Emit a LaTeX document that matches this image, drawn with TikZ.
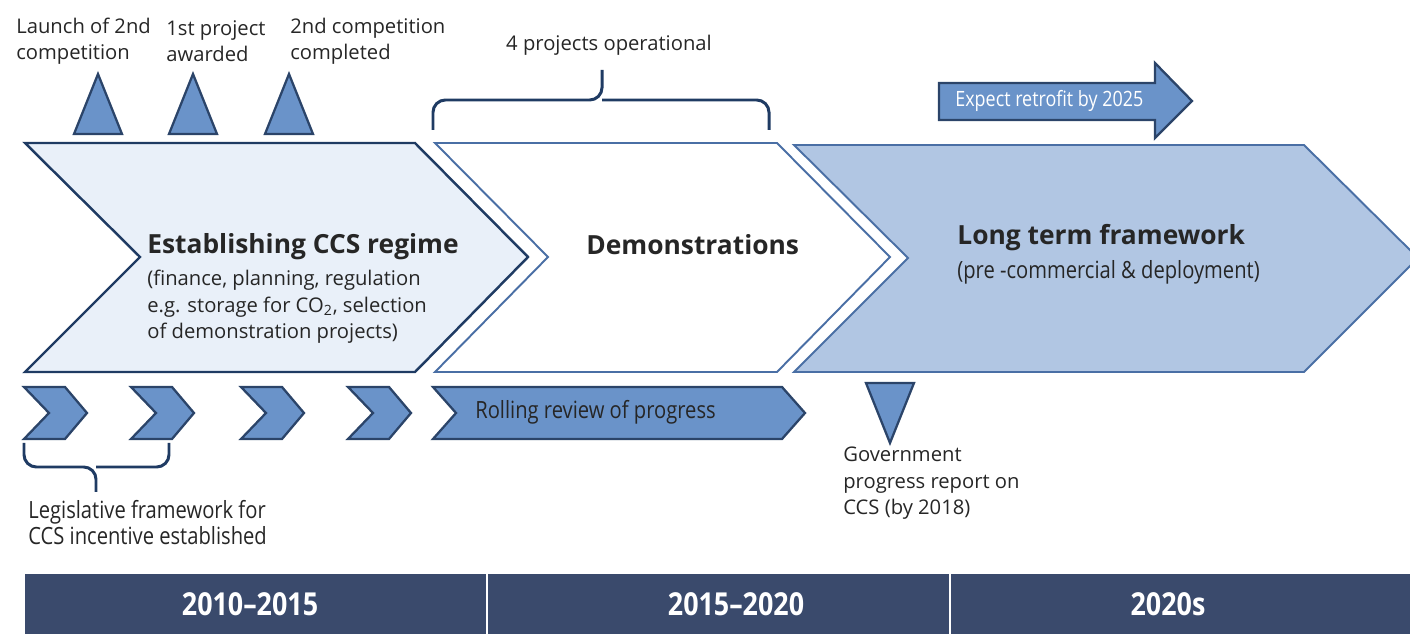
\documentclass[tikz,border=0pt]{standalone}
\usepackage{fontspec}
\setmainfont{Open Sans}
\newfontfamily\narrowfont[FakeStretch=0.85]{Open Sans}
\usepackage{tikz}

\definecolor{navy}{HTML}{1F3B63}
\definecolor{paleblue}{HTML}{E9F0F9}
\definecolor{midline}{HTML}{4A6FA5}
\definecolor{midfill}{HTML}{B1C6E3}
\definecolor{blockfill}{HTML}{6A93C9}
\definecolor{blockline}{HTML}{2B4469}
\definecolor{barblue}{HTML}{3A4A6C}
\definecolor{ink}{HTML}{262626}

\begin{document}
\begin{tikzpicture}[x=0.02cm,y=-0.02cm,
  phaseone/.style={fill=paleblue,draw=navy,line width=1.4pt,line join=miter},
  phasetwo/.style={fill=white,draw=midline,line width=1.1pt,line join=miter},
  phasethree/.style={fill=midfill,draw=midline,line width=1.1pt,line join=miter},
  marker/.style={fill=blockfill,draw=blockline,line width=1.3pt,line join=miter},
  brace/.style={draw=navy,line width=1.7pt,rounded corners=7pt},
  note/.style={inner sep=0pt,align=left,text=ink,font=\fontsize{11.5}{15}\selectfont},
  narrownote/.style={inner sep=0pt,align=left,text=ink,font=\narrowfont\fontsize{13.5}{15}\selectfont},
  heading/.style={inner sep=0pt,text=ink,font=\bfseries\fontsize{15}{18}\selectfont},
  yearlabel/.style={inner sep=0pt,text=white,font=\narrowfont\bfseries\fontsize{18}{20}\selectfont}]
\useasboundingbox (0,0) rectangle (1410,634);

% milestones on top
\node[note,anchor=west] (launch) at (16,41) {Launch of 2nd\\competition};
\node[note,anchor=west] (awarded) at (166,41) {1st project\\awarded};
\node[note,anchor=west] (completed) at (290,41) {2nd competition\\completed};
\foreach \x in {98,193,289}
  \draw[marker] (\x,74) -- (\x+24,134) -- (\x-24,134) -- cycle;

% brace over the demonstration phase
\node[note] (operational) at (609,45) {4 projects operational};
\draw[brace] (433,130) -- (433,100) -- (602,100) -- (602,70);
\draw[brace] (769,130) -- (769,100) -- (602,100);

% retrofit arrow
\draw[marker] (939,83) -- (1155,83) -- (1155,63) -- (1192,101) -- (1155,138)
  -- (1155,120) -- (939,120) -- cycle;
\node[narrownote,anchor=west,text=white,font=\narrowfont\fontsize{12}{14}\selectfont]
  (retrofit) at (955,101) {Expect retrofit by 2025};

% the three phases
\draw[phaseone] (25,143) -- (415,143) -- (528,257) -- (415,372) -- (25,372)
  -- (140,257) -- cycle;
\draw[phasetwo] (435,143) -- (777,143) -- (890,257) -- (777,372) -- (435,372)
  -- (548,257) -- cycle;
\draw[phasethree] (794,145) -- (1304,145) -- (1418,258) -- (1304,372) -- (794,372)
  -- (908,258) -- cycle;

\node[heading,anchor=west] (regime) at (147,247) {Establishing CCS regime};
\node[note,anchor=north west] (regimetext) at (147,270)
  {(finance, planning, regulation\\e.g. storage for CO\textsubscript{2}, selection\\of demonstration projects)};
\node[heading,anchor=west] (demos) at (586,245) {Demonstrations};
\node[heading,anchor=west] (longterm) at (957,238) {Long term framework};
\node[narrownote,anchor=west] (longtext) at (957,272) {(pre -commercial \& deployment)};

% row of small chevrons and the review arrow
\foreach \x in {24,131,241,348}
  \draw[marker] (\x,387) -- (\x+41,387) -- (\x+63,413) -- (\x+41,439) -- (\x,439)
    -- (\x+25,413) -- cycle;
\draw[marker] (433,387) -- (782,387) -- (805,413) -- (782,439) -- (433,439)
  -- (456,413) -- cycle;
\node[narrownote,anchor=west] (review) at (475,412) {Rolling review of progress};

% legislation brace
\draw[brace] (24,443) -- (24,467) -- (96,467) -- (96,492);
\draw[brace] (169,443) -- (169,467) -- (96,467);
\node[narrownote,anchor=north west] (legislative) at (28,500)
  {Legislative framework for\\CCS incentive established};

% progress report
\draw[marker] (866,383) -- (914,383) -- (890,443) -- cycle;
\node[note,anchor=north west] (report) at (843,447)
  {Government\\progress report on\\CCS (by 2018)};

% time bar
\fill[barblue] (25,574) rectangle (1410,634);
\draw[white,line width=1.2pt] (487,574) -- (487,634);
\draw[white,line width=1.2pt] (950,574) -- (950,634);
\node[yearlabel] (early) at (250,604) {2010–2015};
\node[yearlabel] (mid) at (736,604) {2015–2020};
\node[yearlabel] (late) at (1168,604) {2020s};
\end{tikzpicture}
\end{document}
